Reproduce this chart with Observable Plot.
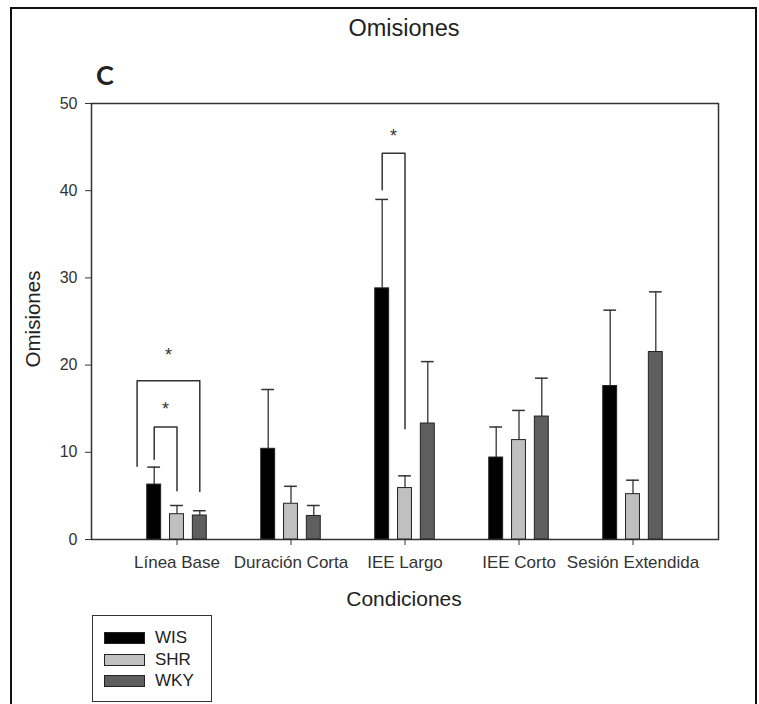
<!DOCTYPE html>
<html><head><meta charset="utf-8">
<script src="https://cdn.jsdelivr.net/npm/d3@7"></script>
<script src="https://cdn.jsdelivr.net/npm/@observablehq/plot@0.6"></script>
<style>
body{margin:0;background:#fff;font-family:"Liberation Sans",Arial,sans-serif;color:#222;}
#wrap{position:relative;width:759px;height:704px;overflow:hidden;background:#fff;}
#border{position:absolute;left:10px;top:7px;width:747px;height:740px;border:2px solid #111;box-sizing:border-box;}
#chart{position:absolute;left:0;top:0;}
.t{position:absolute;white-space:nowrap;}
#title{left:404px;top:28px;transform:translate(-50%,-50%);font-size:23.5px;}
#panel{left:96px;top:58px;font-family:"Lato","Open Sans",sans-serif;font-weight:bold;font-size:27px;}
#ylab{left:33px;top:319px;transform:translate(-50%,-50%) rotate(-90deg);font-size:20.5px;}
#xlab{left:404px;top:599px;transform:translate(-50%,-50%);font-size:21px;}
#legend{position:absolute;left:92px;top:615px;width:120px;height:87px;border:1.5px solid #333;box-sizing:border-box;background:#fff;}
.row{position:absolute;left:11px;height:14px;display:flex;align-items:center;}
.sw{width:41px;height:12px;border:1px solid #222;box-sizing:border-box;margin-right:10px;}
.row span{font-size:17px;color:#222;}
</style></head>
<body>
<div id="wrap">
  <div id="border"></div>
  <div id="chart"></div>
  <div class="t" id="title">Omisiones</div>
  <div class="t" id="panel">C</div>
  <div class="t" id="ylab">Omisiones</div>
  <div class="t" id="xlab">Condiciones</div>
  <div id="legend"></div>
</div>
<script>
// ---- data ----
const conditions = ["Línea Base", "Duración Corta", "IEE Largo", "IEE Corto", "Sesión Extendida"];
const groups = ["WIS", "SHR", "WKY"];
const groupColors = ["#000000", "#c0c0c0", "#5f5f5f"];
const wisMean = [6.3, 10.4, 28.8, 9.4, 17.6];
const wisErr  = [2.0, 6.8, 10.2, 3.5, 8.7];
const shrMean = [2.9, 4.1, 5.9, 11.4, 5.2];
const shrErr  = [1.0, 2.0, 1.4, 3.4, 1.6];
const wkyMean = [2.75, 2.7, 13.3, 14.1, 21.5];
const wkyErr  = [0.55, 1.2, 7.1, 4.4, 6.9];
const yTicks = [0, 10, 20, 30, 40, 50];

// significance brackets
const bracketCond  = ["Línea Base", "Línea Base", "IEE Largo"];
const bracketFrom  = ["WIS", "WIS", "WIS"];
const bracketTo    = ["WKY", "SHR", "SHR"];
const bracketTop   = [18.2, 12.9, 44.3];
const bracketLeftEnd  = [8.4, 9.2, 40.1];
const bracketRightEnd = [5.5, 5.6, 12.7];
const bracketLeftShift = [-0.15, 0, 0];
const starY = [21.1, 14.9, 46.2];
const starLabel = ["*", "*", "*"];

// ---- build table ----
const means = [wisMean, shrMean, wkyMean];
const errs = [wisErr, shrErr, wkyErr];
const GROUP_STEP = 0.2, HALF_BAR = 0.061, HALF_CAP = 0.056;
const pos = (c, g) => conditions.indexOf(c) + (groups.indexOf(g) - 1) * GROUP_STEP;

const rows = [];
conditions.forEach((c, ci) => groups.forEach((g, gi) => {
  rows.push({cond: c, group: g, mean: means[gi][ci], top: means[gi][ci] + errs[gi][ci], x: pos(c, g)});
}));

const bracketPts = [];
const stars = [];
bracketCond.forEach((c, i) => {
  const xl = pos(c, bracketFrom[i]) + bracketLeftShift[i];
  const xr = pos(c, bracketTo[i]);
  bracketPts.push({id: i, x: xl, y: bracketLeftEnd[i]});
  bracketPts.push({id: i, x: xl, y: bracketTop[i]});
  bracketPts.push({id: i, x: xr, y: bracketTop[i]});
  bracketPts.push({id: i, x: xr, y: bracketRightEnd[i]});
  stars.push({x: (xl + xr) / 2, y: starY[i], label: starLabel[i]});
});

const chart = Plot.plot({
  width: 759,
  height: 600,
  marginLeft: 91,
  marginRight: 41,
  marginTop: 103,
  marginBottom: 61,
  style: {fontFamily: "Liberation Sans, Arial, sans-serif", fontSize: "16px", color: "#333", background: "transparent"},
  x: {domain: [-0.75, 4.75]},
  y: {domain: [0, 50]},
  color: {domain: groups, range: groupColors},
  marks: [
    Plot.frame({stroke: "#333", strokeWidth: 1.5}),
    Plot.axisY({ticks: yTicks, tickSize: 6, tickPadding: 8, label: null, fontSize: 16, stroke: "#333"}),
    Plot.axisX({ticks: d3.range(conditions.length), tickFormat: i => conditions[i], tickSize: 6, tickPadding: 10, label: null, fontSize: 17, stroke: "#333"}),
    Plot.ruleX(rows, {x: "x", y1: "mean", y2: "top", stroke: "#333", strokeWidth: 1.3}),
    Plot.ruleY(rows, {y: "top", x1: d => d.x - HALF_CAP, x2: d => d.x + HALF_CAP, stroke: "#333", strokeWidth: 1.5}),
    Plot.rectY(rows, {x1: d => d.x - HALF_BAR, x2: d => d.x + HALF_BAR, y1: 0, y2: "mean", fill: "group", stroke: "#222", strokeWidth: 1}),
    Plot.line(bracketPts, {x: "x", y: "y", z: "id", stroke: "#333", strokeWidth: 1.5, curve: "linear"}),
    Plot.text(stars, {x: "x", y: "y", text: "label", fontSize: 18, fill: "#333"})
  ]
});
document.getElementById("chart").appendChild(chart);

// legend
const legend = document.getElementById("legend");
groups.forEach((g, i) => {
  const row = document.createElement("div");
  row.className = "row";
  row.style.top = (15 + i * 21.5) + "px";
  row.innerHTML = `<div class="sw" style="background:${groupColors[i]}"></div><span>${g}</span>`;
  legend.appendChild(row);
});
</script>
</body></html>
